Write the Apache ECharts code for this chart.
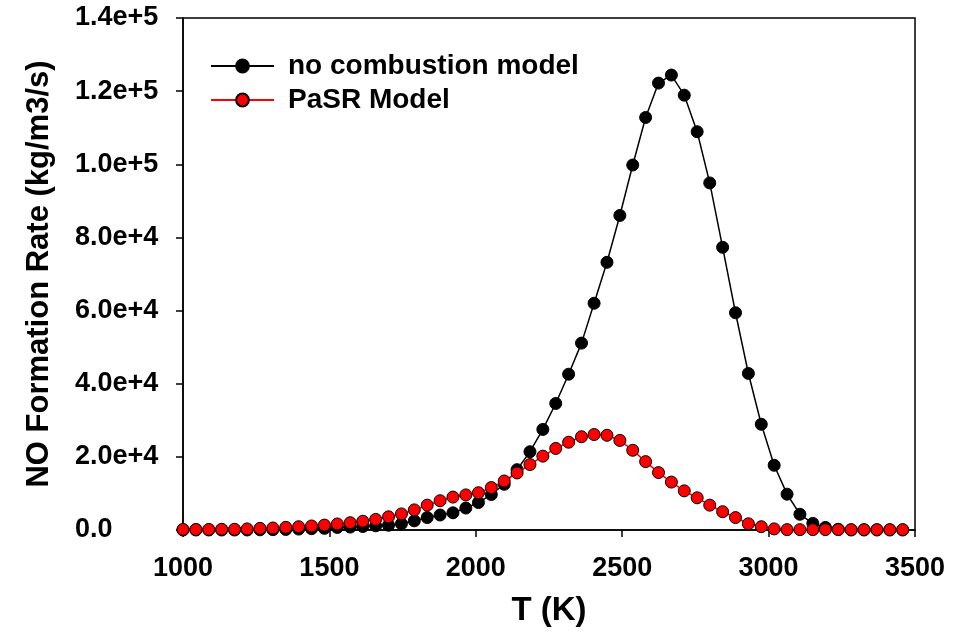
<!DOCTYPE html>
<html>
<head>
<meta charset="utf-8">
<script src="https://cdn.jsdelivr.net/npm/echarts@6/dist/echarts.min.js"></script>
<style>html,body{margin:0;padding:0;background:#fff}#c{width:954px;height:640px}</style>
</head>
<body>
<div id="c"></div>
<script>
var temperatures = [1000,1044,1088,1132,1176,1219,1263,1307,1351,1395,1439,1483,1527,1571,1614,1658,1702,1746,1790,1834,1878,1922,1966,2009,2053,2097,2141,2185,2229,2273,2317,2361,2404,2448,2492,2536,2580,2624,2668,2712,2756,2799,2843,2887,2931,2975,3019,3063,3107,3151,3194,3238,3282,3326,3370,3414,3458];
var noCombustion = [0,0,0,0,0,0,50,100,150,250,350,450,700,800,950,1150,1300,1700,2500,3400,4100,4700,6000,7500,9700,12500,16500,21400,27500,34600,42600,51100,62000,73200,86000,99800,112800,122200,124400,118900,108900,94900,77300,59400,42800,28900,17700,9800,4300,1800,700,200,0,0,0,0,0];
var pasr = [150,150,150,200,200,300,450,550,730,900,1100,1350,1650,2000,2400,2900,3600,4400,5500,6800,8000,9000,9600,10200,11600,13400,15600,17900,20200,22300,24000,25500,26100,25900,24500,21800,18700,15700,13100,10700,8800,6800,5000,3400,1700,900,300,100,100,100,100,100,100,100,100,100,100];
var yTickLabels = ['0.0','2.0e+4','4.0e+4','6.0e+4','8.0e+4','1.0e+5','1.2e+5','1.4e+5'];
var xTickLabels = ['1000','1500','2000','2500','3000','3500'];
var seriesNames = ['no combustion model','PaSR Model'];

function pairs(xs, ys){ return xs.map(function(x,i){ return [x, ys[i]]; }); }
var FONT = '"Liberation Sans", Arial, sans-serif';
var chart = echarts.init(document.getElementById('c'), null, {renderer:'canvas'});
chart.setOption({
  animation:false,
  backgroundColor:'#ffffff',
  grid:{left:183,right:39,top:18,bottom:110,show:true,borderColor:'#000',borderWidth:1.5,backgroundColor:'transparent'},
  legend:{
    orient:'vertical', left:205, top:47, itemWidth:63, itemHeight:16, itemGap:6,
    data:seriesNames,
    textStyle:{fontFamily:FONT,fontWeight:'bold',fontSize:28,color:'#000',padding:[0,0,0,9]}
  },
  xAxis:{
    type:'value', min:1000, max:3500, interval:500,
    name:'T (K)', nameLocation:'middle', nameGap:64,
    nameTextStyle:{fontFamily:FONT,fontWeight:'bold',fontSize:33,color:'#000'},
    axisLine:{lineStyle:{color:'#000',width:1.5}},
    axisTick:{inside:false,length:7,lineStyle:{color:'#000',width:1.5}},
    axisLabel:{margin:25,fontFamily:FONT,fontWeight:'bold',fontSize:27,color:'#000',
      formatter:function(v){ var i=Math.round((v-1000)/500); return xTickLabels[i]||''; }},
    splitLine:{show:false}
  },
  yAxis:{
    type:'value', min:0, max:140000, interval:20000,
    name:'NO Formation Rate (kg/m3/s)', nameLocation:'middle', nameGap:128,
    nameTextStyle:{fontFamily:FONT,fontWeight:'bold',fontSize:31,color:'#000'},
    axisLine:{show:true,lineStyle:{color:'#000',width:1.5}},
    axisTick:{show:true,inside:false,length:7,lineStyle:{color:'#000',width:1.5}},
    axisLabel:{margin:108,align:'left',fontFamily:FONT,fontWeight:'bold',fontSize:27,color:'#000',
      formatter:function(v){ var i=Math.round(v/20000); return yTickLabels[i]||''; }},
    splitLine:{show:false}
  },
  series:[
    {name:seriesNames[0], type:'line', data:pairs(temperatures,noCombustion),
     symbol:'circle', symbolSize:12, showAllSymbol:true,
     lineStyle:{color:'#000',width:1.5},
     itemStyle:{color:'#000',borderColor:'#000',borderWidth:1}, z:2},
    {name:seriesNames[1], type:'line', data:pairs(temperatures,pasr),
     symbol:'circle', symbolSize:12, showAllSymbol:true,
     lineStyle:{color:'#ff0000',width:1.5},
     itemStyle:{color:'#ff0000',borderColor:'#000',borderWidth:1}, z:3}
  ]
});
</script>
</body>
</html>
